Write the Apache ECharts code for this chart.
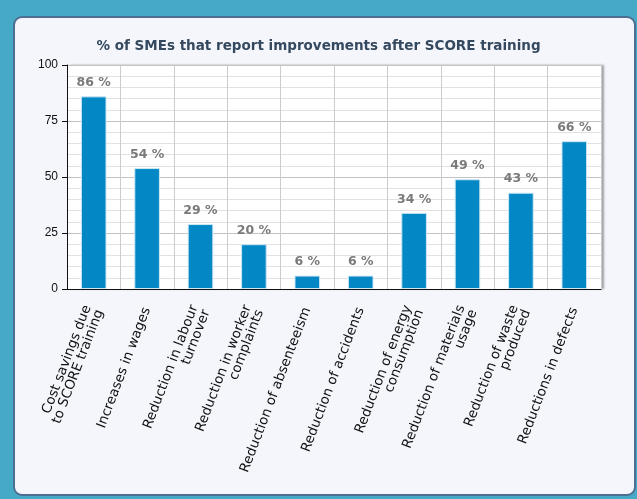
<!DOCTYPE html>
<html>
<head>
<meta charset="utf-8">
<script src="https://cdn.jsdelivr.net/npm/echarts@6/dist/echarts.min.js"></script>
<style>
  html, body { margin: 0; padding: 0; background: #46aac7; }
  #chart { width: 637px; height: 499px; }
</style>
</head>
<body>
<div id="chart"></div>
<script>
const categories = [
  'Cost savings due\nto SCORE training',
  'Increases in wages',
  'Reduction in labour\nturnover',
  'Reduction in worker\ncomplaints',
  'Reduction of absenteeism',
  'Reduction of accidents',
  'Reduction of energy\nconsumption',
  'Reduction of materials\nusage',
  'Reduction of waste\nproduced',
  'Reductions in defects'
];
const values = [86, 54, 29, 20, 6, 6, 34, 49, 43, 66];
const yTicks = [0, 25, 50, 75, 100];

const chart = echarts.init(document.getElementById('chart'), null, { renderer: 'canvas' });

chart.setOption({
  animation: false,
  backgroundColor: '#46aac7',
  graphic: [{
    type: 'rect',
    z: -10,
    shape: { x: 14, y: 17, width: 621, height: 478, r: 8 },
    style: { fill: '#f5f6fb', stroke: '#4c6e92', lineWidth: 2 }
  }],
  title: {
    text: '% of SMEs that report improvements after SCORE training',
    left: 'center',
    top: 34,
    textStyle: { fontFamily: 'DejaVu Sans', fontSize: 13.5, fontWeight: 'bold', color: '#34495f' }
  },
  grid: {
    left: 67, right: 36, top: 65, bottom: 210,
    show: true, backgroundColor: '#ffffff', borderWidth: 0,
    shadowColor: 'rgba(0,0,0,0.35)', shadowOffsetX: 3, shadowBlur: 2
  },
  xAxis: {
    type: 'category',
    data: categories,
    axisLine: { lineStyle: { color: '#111', width: 1 } },
    axisTick: { length: 5, lineStyle: { color: '#111' } },
    splitLine: { show: true, lineStyle: { color: '#cccccc' } },
    axisLabel: {
      rotate: 69, interval: 0, margin: 19,
      fontFamily: 'DejaVu Sans', fontSize: 13.5, color: '#111', lineHeight: 13
    }
  },
  yAxis: {
    type: 'value',
    min: yTicks[0], max: yTicks[yTicks.length - 1], interval: 25,
    axisLine: { show: true, lineStyle: { color: '#111', width: 1 } },
    axisTick: { show: true, length: 5, lineStyle: { color: '#111' } },
    axisLabel: { fontFamily: 'Liberation Sans', fontSize: 12, color: '#111', margin: 9 },
    splitLine: { show: true, lineStyle: { color: '#c4c4c4' } },
    minorTick: { show: false, splitNumber: 5 },
    minorSplitLine: { show: true, lineStyle: { color: '#e2e2e2' } }
  },
  series: [{
    type: 'bar',
    data: values,
    barWidth: '48%',
    itemStyle: { color: '#0487c5', borderColor: '#cfe8f4', borderWidth: 1 },
    label: {
      show: true, position: 'top', distance: 7,
      formatter: '{c} %',
      fontFamily: 'DejaVu Sans', fontSize: 12.5, fontWeight: 'bold', color: '#7a7a7a'
    }
  }]
});
</script>
</body>
</html>
